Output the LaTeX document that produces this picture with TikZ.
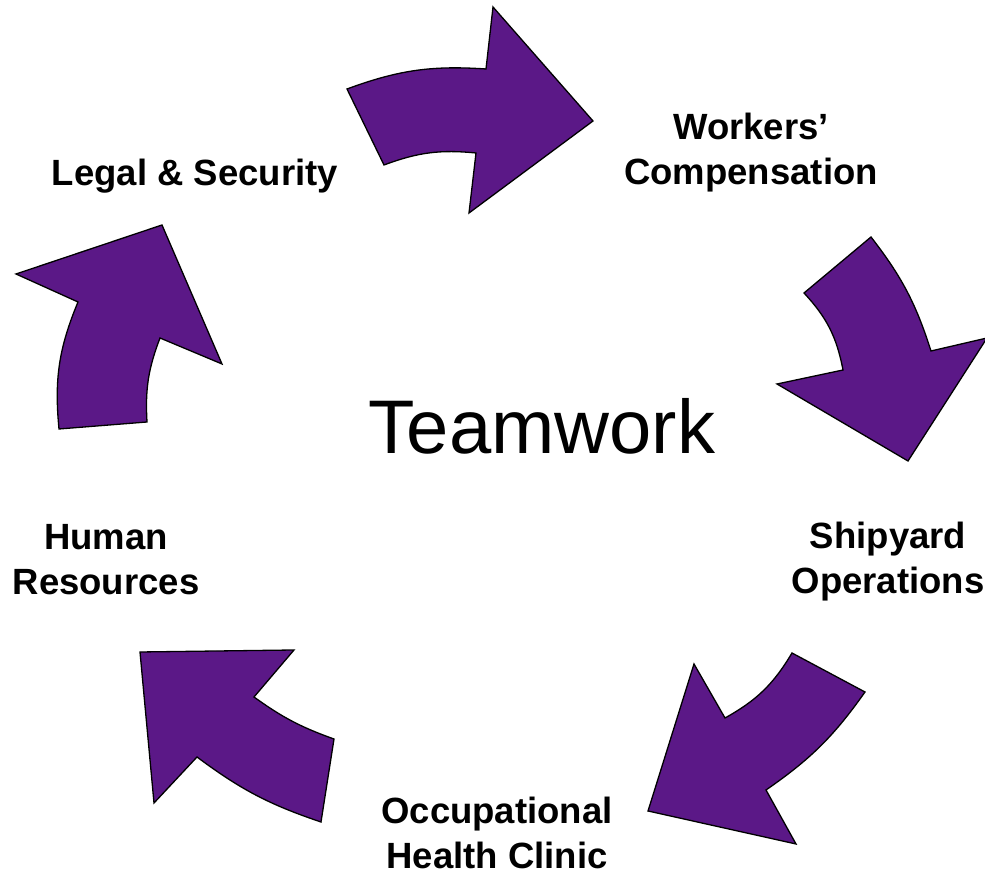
\documentclass[tikz,border=0pt]{standalone}
\usepackage{fontspec}
\setmainfont{Liberation Sans}
\definecolor{teampurple}{RGB}{91,24,135}
\tikzset{
    cyclearrow/.style={fill=teampurple, draw=black, line width=1.3pt, line join=miter},
    unitlabel/.style={font=\fontsize{36.5}{45}\selectfont\bfseries, align=center, inner sep=0pt}
}
\begin{document}
\begin{tikzpicture}[x=1pt, y=1pt]
    \useasboundingbox (0,0) rectangle (985,874);

    % arrow from Legal & Security to Workers' Compensation
    \coordinate (a1) at (347,785); \coordinate (b1) at (486,805);
    \coordinate (c1) at (493,867); \coordinate (d1) at (593,753);
    \coordinate (e1) at (469,661); \coordinate (f1) at (476,721);
    \coordinate (g1) at (384,709);
    \draw[cyclearrow] (a1) to[bend left=12] (b1) -- (c1) -- (d1) -- (e1) -- (f1) to[bend right=13] (g1) -- cycle;

    % arrow from Workers' Compensation to Shipyard Operations
    \coordinate (a2) at (871,637); \coordinate (b2) at (931,523);
    \coordinate (c2) at (987,536); \coordinate (d2) at (908,413);
    \coordinate (e2) at (777,490); \coordinate (f2) at (843,504);
    \coordinate (g2) at (804,581);
    \draw[cyclearrow] (a2) to[bend left=10] (b2) -- (c2) -- (d2) -- (e2) -- (f2) to[bend right=16] (g2) -- cycle;

    % arrow from Shipyard Operations to the clinic
    \coordinate (a3) at (792,221); \coordinate (b3) at (865,182);
    \coordinate (c3) at (766,84);  \coordinate (d3) at (796,30);
    \coordinate (e3) at (648,63);  \coordinate (f3) at (694,210);
    \coordinate (g3) at (725,156);
    \draw[cyclearrow] (a3) -- (b3) to[bend left=10] (c3) -- (d3) -- (e3) -- (f3) -- (g3) to[bend right=15] (a3) -- cycle;

    % arrow from the clinic to Human Resources
    \coordinate (a4) at (140,222); \coordinate (b4) at (294,224);
    \coordinate (c4) at (254,177); \coordinate (d4) at (334,135);
    \coordinate (e4) at (321,52);  \coordinate (f4) at (197,117);
    \coordinate (g4) at (154,71);
    \draw[cyclearrow] (a4) -- (b4) -- (c4) to[bend right=8] (d4) -- (e4) to[bend left=9] (f4) -- (g4) -- cycle;

    % arrow from Human Resources to Legal & Security
    \coordinate (a5) at (16,600);  \coordinate (b5) at (162,649);
    \coordinate (c5) at (222,510); \coordinate (d5) at (160,536);
    \coordinate (e5) at (147,452); \coordinate (f5) at (59,445);
    \coordinate (g5) at (78,572);
    \draw[cyclearrow] (a5) -- (b5) -- (c5) -- (d5) to[bend right=12] (e5) -- (f5) to[bend left=14] (g5) -- cycle;

    \node[unitlabel] (legal) at (195,698) {Legal \& Security};
    \node[unitlabel] (workers) at (751,721) {Workers’\\Compensation};
    \node[unitlabel] (shipyard) at (888,312) {Shipyard\\Operations};
    \node[unitlabel] (clinic) at (497,41) {Occupational\\Health Clinic};
    \node[unitlabel] (hr) at (106,314) {Human\\Resources};
    \node[font=\fontsize{76}{90}\selectfont, inner sep=0pt, anchor=base] (team) at (542,420) {Teamwork};
\end{tikzpicture}
\end{document}
